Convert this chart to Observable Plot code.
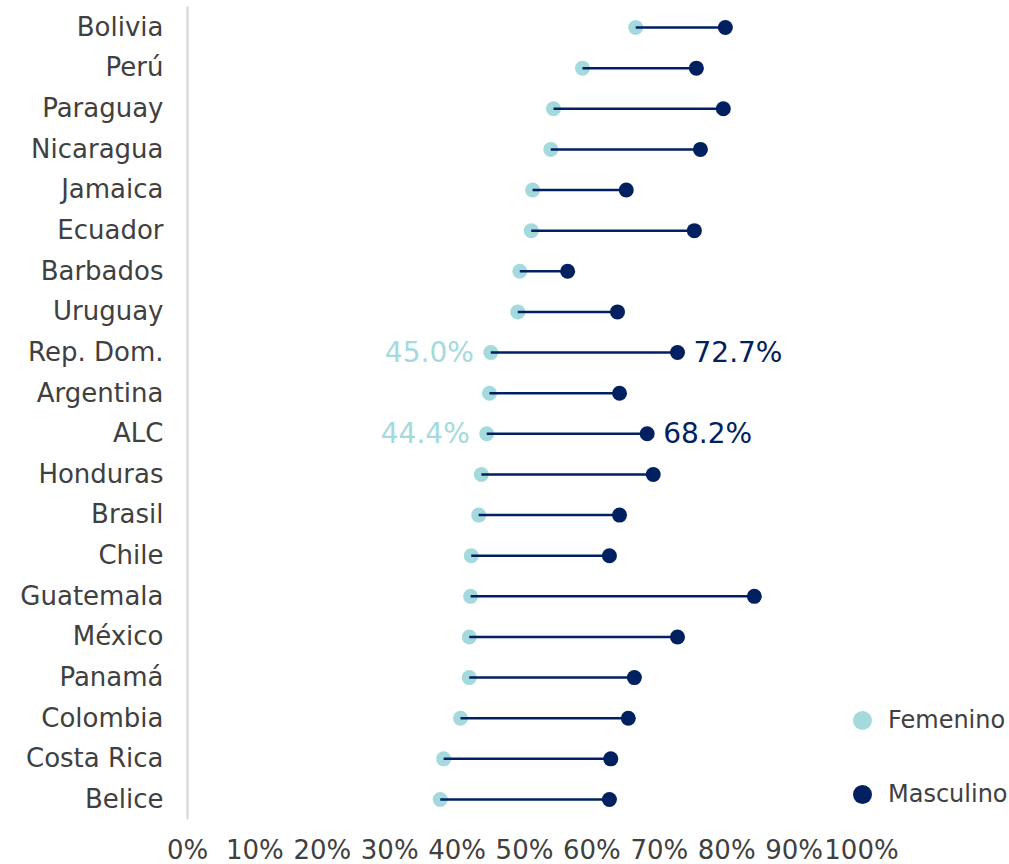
<!DOCTYPE html>
<html>
<head>
<meta charset="utf-8">
<script src="https://cdn.jsdelivr.net/npm/d3@7"></script>
<script src="https://cdn.jsdelivr.net/npm/@observablehq/plot@0.6"></script>
<style>
  html, body { margin: 0; padding: 0; background: #fff; }
  #wrap { position: relative; width: 1009px; height: 864px; font-family: "DejaVu Sans", sans-serif; }
  .leg { position: absolute; left: 853px; display: flex; align-items: center; font-size: 24px; color: #404040; white-space: nowrap; }
  .leg span.sw { width: 19px; height: 19px; border-radius: 50%; display: inline-block; margin-right: 16px; }
</style>
</head>
<body>
<div id="wrap"></div>
<script>
const countries = ["Bolivia","Perú","Paraguay","Nicaragua","Jamaica","Ecuador","Barbados","Uruguay","Rep. Dom.","Argentina","ALC","Honduras","Brasil","Chile","Guatemala","México","Panamá","Colombia","Costa Rica","Belice"];
const femenino = [66.5,58.6,54.3,53.9,51.2,51.0,49.3,49.0,45.0,44.8,44.4,43.6,43.2,42.1,42.0,41.8,41.8,40.5,38.0,37.5];
const masculino = [79.8,75.5,79.5,76.1,65.1,75.2,56.4,63.8,72.7,64.1,68.2,69.1,64.1,62.6,84.1,72.7,66.3,65.4,62.8,62.6];
const labeled = ["Rep. Dom.","ALC"];
const xTicks = [0,10,20,30,40,50,60,70,80,90,100];
const seriesNames = ["Femenino","Masculino"];
const colF = "#A4DADE", colM = "#002060";

const data = countries.map((c,i) => ({c, f: femenino[i], m: masculino[i]}));
const lab = data.filter(d => labeled.includes(d.c));

const chart = Plot.plot({
  width: 1009,
  height: 864,
  marginLeft: 187,
  marginRight: 148,
  marginTop: 6.7,
  marginBottom: 44.7,
  style: {fontFamily: "DejaVu Sans, sans-serif", fontSize: "26px", color: "#404040", background: "#fff", overflow: "visible"},
  x: {domain: [0,100], ticks: xTicks, tickFormat: d => d + "%", tickSize: 0, tickPadding: 21, label: null},
  y: {type: "point", domain: countries, padding: 0.5, round: false, tickSize: 0, tickPadding: 24, label: null},
  marks: [
    Plot.ruleX([0], {stroke: "#d4d4d4", strokeWidth: 2}),
    Plot.dot(data, {x: "f", y: "c", r: 7.5, fill: colF}),
    Plot.link(data, {x1: "f", x2: "m", y1: "c", y2: "c", stroke: colM, strokeWidth: 2.5}),
    Plot.dot(data, {x: "m", y: "c", r: 7.5, fill: colM}),
    Plot.text(lab, {x: "f", y: "c", text: d => d.f.toFixed(1) + "%", textAnchor: "end", dx: -17, fill: colF, fontSize: 28}),
    Plot.text(lab, {x: "m", y: "c", text: d => d.m.toFixed(1) + "%", textAnchor: "start", dx: 16, fill: colM, fontSize: 28})
  ]
});
const wrap = document.getElementById("wrap");
wrap.appendChild(chart);
const legTops = [706, 780];
seriesNames.forEach((n, i) => {
  const d = document.createElement("div");
  d.className = "leg";
  d.style.top = legTops[i] + "px";
  d.innerHTML = `<span class="sw" style="background:${i ? colM : colF}"></span>${n}`;
  wrap.appendChild(d);
});
</script>
</body>
</html>
